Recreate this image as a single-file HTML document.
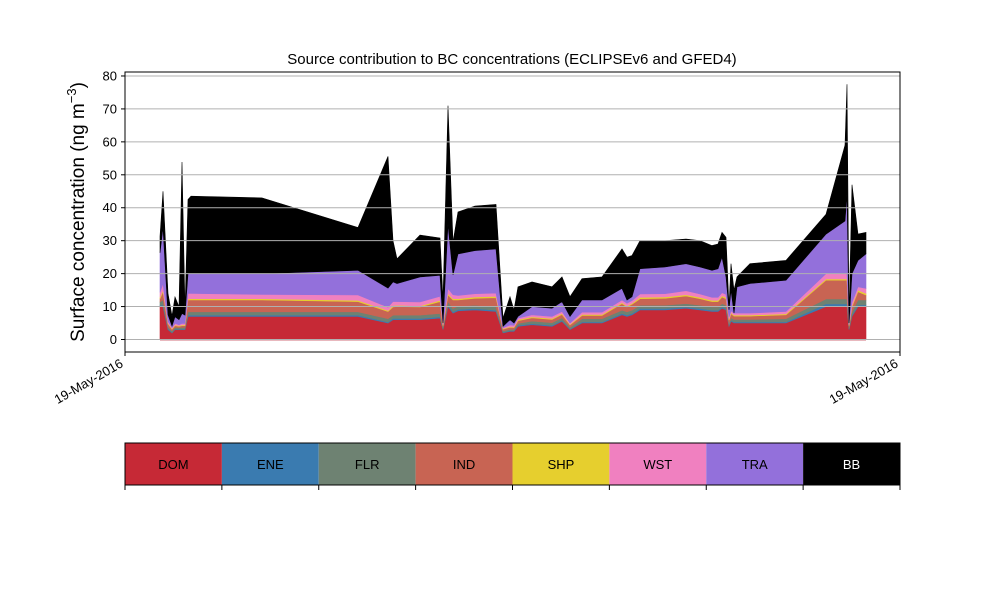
<!DOCTYPE html>
<html><head><meta charset="utf-8"><style>
body{margin:0;background:#fff;}
svg{display:block;font-family:"Liberation Sans","DejaVu Sans",sans-serif;}
</style></head><body>
<svg id="chart" width="1000" height="600" viewBox="0 0 1000 600">
<text x="512" y="64" text-anchor="middle" font-size="15">Source contribution to BC concentrations (ECLIPSEv6 and GFED4)</text>
<g id="areas"></g>
<g id="grid"></g>
<g id="yticks"></g>
<rect x="125" y="72" width="775" height="280" fill="none" stroke="#000" stroke-width="1"/>
<text transform="translate(84,212) rotate(-90)" text-anchor="middle" font-size="19">Surface concentration (ng m<tspan dy="-8" font-size="13">−3</tspan><tspan dy="8">)</tspan></text>
<g id="xticks"></g>
<g id="legend"></g>
</svg>
<script>
const times=[35,38,43,47,50,54,57,60,63,66,137,233,263,268,272,295,315,318,323,328,333,350,371,378,385,389,393,407,427,437,445,457,477,497,502,507,515,540,561,575,587,593,597,601,604,606,609,612,625,661,701,720,722,724,727,733,741];
const DOM=[10,10,3,2,3,3,3,3,7,7,7,7,5,6,6,6,6.5,3,10,8,8.7,9,8.5,2,2.5,2.5,4,4.5,4,5.5,3,5,5,7.5,7,7.5,9,9,9.5,9,8.5,8.5,9.5,9,4,5.5,5,5,5,5,10,10,10,3,7,10,10];
const ENE=[.4,.5,.3,.2,.2,.2,.2,.2,.4,.4,.4,.4,.3,.4,.4,.4,.4,.2,.5,.4,.4,.4,.4,.2,.2,.2,.3,.3,.3,.3,.2,.3,.3,.4,.4,.4,.4,.4,.4,.4,.4,.4,.4,.4,.3,.3,.3,.3,.3,.3,.8,.8,.8,.2,.4,.5,.5];
const FLR=[1,1.5,.5,.4,.5,.4,.5,.5,1,1,1,1,1,1,1,1,1,.5,1,1,1,1,1,.4,.4,.4,.6,.8,.8,.8,.5,1,1,1,1,1,1,1,1,1,1,1,1,1,.6,.8,.8,.8,.8,1,1.5,1.5,1.5,.5,1,1.5,1.5];
const IND=[1,2.5,1,.5,.5,.4,.5,.5,3.6,3.6,3.6,3.1,2.2,2.5,2.6,2.5,3.6,.5,2,2.6,1.9,2.1,2.8,.5,.6,.5,.8,1,1,1,.7,1,1,2,1.5,1.8,2,2.1,2.3,2,1.6,1.6,2,2,1,1.2,1,1,1,1.2,5.7,5.7,5.7,.5,1.5,2.5,1.5];
const SHP=[.4,.5,.2,.2,.2,.2,.2,.2,.4,.4,.4,.4,.3,.4,.4,.3,.4,.2,.5,.4,.4,.4,.4,.2,.2,.2,.3,.3,.3,.3,.2,.3,.3,.3,.3,.3,.4,.4,.4,.4,.4,.4,.4,.4,.3,.3,.3,.3,.3,.3,.4,.4,.4,.2,.4,.5,.5];
const WST=[1.5,2,.5,.3,.5,.3,.5,.5,1.6,1.6,1.3,1.6,1,1.2,1.1,1.2,1.2,.5,1.5,1.2,1,1,1,.3,.5,.5,.5,.6,.6,.6,.4,.7,.7,.8,.8,.8,1,1,1.2,1,.9,.9,.9,.9,.6,.6,.6,.6,.6,.7,1.6,1.6,1.6,.5,1,1,1.5];
const TRA=[12,17,2,.5,2,1.5,3,2.5,6,6,6.3,7.5,5.8,6,5.5,7.6,6.4,.1,19.5,6,12.6,13.1,13.4,.4,1.6,.7,.5,2.5,2.5,3,2,3.7,3.7,3.5,1,1.2,7.7,8.1,8.2,8.2,8.2,8.7,10.8,5.3,2.2,6.3,0,8,9,9.5,12,16,24,.1,8.7,8,10.5];
const BB=[5,11,6.5,3,6,4,46,1.6,22.5,23.5,23,13,40,12.5,7.5,12.7,11.3,7,36,10,12.7,13.5,13.5,2.5,7,4,9,7.5,6.5,7.5,6,6.5,7,12,13,12.5,8.5,8,7.5,8,7.5,7.5,7.5,12,1,8,7,3,6,6,6,23,33.5,2,27,8,6.5];
const seriesNames=["DOM","ENE","FLR","IND","SHP","WST","TRA","BB"];
const seriesColors=["#c62936","#3a7bb0","#6e8272","#c86453","#e6cf2e","#f080c0","#9370db","#000000"];
const yTicks=[0,10,20,30,40,50,60,70,80];
const xTickLabels=["19-May-2016","19-May-2016"];
const xTickTimes=[0,775];

const NS="http://www.w3.org/2000/svg";
const x=t=>125+t*(775/775);
const y=v=>339.5-v*3.294;
const series=[DOM,ENE,FLR,IND,SHP,WST,TRA,BB];
const areas=document.getElementById('areas');
let base=times.map(()=>0);
series.forEach((s,k)=>{
  const top=base.map((b,i)=>b+s[i]);
  let d="M"+times.map((t,i)=>x(t).toFixed(1)+","+y(top[i]).toFixed(1)).join("L");
  for(let i=times.length-1;i>=0;i--) d+="L"+x(times[i]).toFixed(1)+","+y(base[i]).toFixed(1);
  d+="Z";
  const p=document.createElementNS(NS,'path');
  p.setAttribute('d',d);p.setAttribute('fill',seriesColors[k]);
  p.setAttribute('stroke',seriesColors[k]);p.setAttribute('stroke-width','0.6');
  
  
  areas.appendChild(p);
  base=top;
});
const bl=document.createElementNS(NS,'line');
bl.setAttribute('x1',x(times[0]));bl.setAttribute('x2',x(times[times.length-1]));
bl.setAttribute('y1',y(0)+0.5);bl.setAttribute('y2',y(0)+0.5);
bl.setAttribute('stroke','#e0a0a8');bl.setAttribute('stroke-width','1.5');


areas.appendChild(bl);

const grid=document.getElementById('grid'),yt=document.getElementById('yticks');
yTicks.forEach(v=>{
  const l=document.createElementNS(NS,'line');
  l.setAttribute('x1',125);l.setAttribute('x2',900);l.setAttribute('y1',y(v));l.setAttribute('y2',y(v));
  l.setAttribute('stroke','#b0b0b0');l.setAttribute('stroke-width','1');
  
  
  grid.appendChild(l);
  const tk=document.createElementNS(NS,'line');
  tk.setAttribute('x1',121);tk.setAttribute('x2',125);tk.setAttribute('y1',y(v));tk.setAttribute('y2',y(v));
  tk.setAttribute('stroke','#000');
  
  
  yt.appendChild(tk);
  const tx=document.createElementNS(NS,'text');
  tx.setAttribute('x',117);tx.setAttribute('y',y(v)+4.5);tx.setAttribute('text-anchor','end');tx.setAttribute('font-size','13');
  tx.textContent=v;
  
  
  yt.appendChild(tx);
});
const xt=document.getElementById('xticks');
xTickTimes.forEach((t,i)=>{
  const tk=document.createElementNS(NS,'line');
  tk.setAttribute('x1',x(t));tk.setAttribute('x2',x(t));tk.setAttribute('y1',352);tk.setAttribute('y2',356);
  tk.setAttribute('stroke','#000');
  
  
  xt.appendChild(tk);
  const tx=document.createElementNS(NS,'text');
  tx.setAttribute('transform','translate('+(x(t)-1)+',366) rotate(-30)');
  tx.setAttribute('text-anchor','end');tx.setAttribute('font-size','13');
  tx.textContent=xTickLabels[i];
  
  
  xt.appendChild(tx);
});
const lg=document.getElementById('legend');
const w=775/seriesNames.length;
seriesNames.forEach((n,i)=>{
  const r=document.createElementNS(NS,'rect');
  r.setAttribute('x',125+i*w);r.setAttribute('y',443);r.setAttribute('width',w);r.setAttribute('height',42);
  r.setAttribute('fill',seriesColors[i]);
  
  
  lg.appendChild(r);
  const tx=document.createElementNS(NS,'text');
  tx.setAttribute('x',125+i*w+w/2);tx.setAttribute('y',469);tx.setAttribute('text-anchor','middle');tx.setAttribute('font-size','13');
  tx.setAttribute('fill',n==="BB"?"#fff":"#000");
  tx.textContent=n;
  
  
  lg.appendChild(tx);
});
for(let i=0;i<=seriesNames.length;i++){
  const tk=document.createElementNS(NS,'line');
  tk.setAttribute('x1',125+i*w);tk.setAttribute('x2',125+i*w);tk.setAttribute('y1',485);tk.setAttribute('y2',490);
  tk.setAttribute('stroke','#000');
  
  
  lg.appendChild(tk);
}
const fr=document.createElementNS(NS,'rect');
fr.setAttribute('x',125);fr.setAttribute('y',443);fr.setAttribute('width',775);fr.setAttribute('height',42);
fr.setAttribute('fill','none');fr.setAttribute('stroke','#000');


lg.appendChild(fr);
</script>
</body></html>
